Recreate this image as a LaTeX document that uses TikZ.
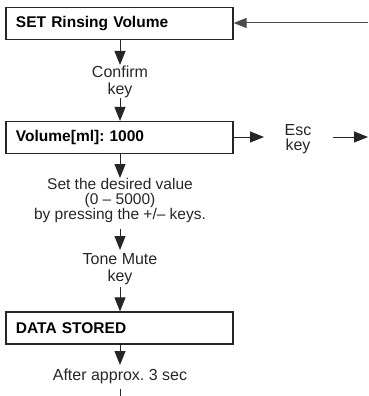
\documentclass[tikz,border=0pt]{standalone}
\usepackage{fontspec}
\setmainfont{Liberation Sans}
\usetikzlibrary{arrows.meta}
\frenchspacing
\tikzset{
  box/.style={draw=black!85, line width=1.2pt, minimum width=227pt, minimum height=32pt,
    text width=207pt, inner xsep=10pt, align=left, font=\fontsize{15.5}{16}\selectfont\bfseries\frenchspacing},
  lbl/.style={inner sep=0pt, align=center, font=\fontsize{16}{17.5}\selectfont\frenchspacing, text=black!85},
  tight/.style={font=\fontsize{15.5}{15}\selectfont\frenchspacing},
  arr/.style={draw=black!85, line width=1pt, -{Triangle[length=14pt,width=11pt]}},
  thin/.style={draw=black!70, line width=1pt, -{Triangle[length=13pt,width=10pt]}},
}
\begin{document}
\begin{tikzpicture}[x=1pt,y=-1pt]
\useasboundingbox (0,0) rectangle (368,396);
\node[box] (b1) at (119.5,23.5) {SET Rinsing Volume};
\node[box] (b2) at (119.5,137.5) {Volume[ml]: 1000};
\node[box] (b3) at (119.5,328) {DATA STORED};
\node[lbl] (confirm) at (120,82) {Confirm\\key};
\node[lbl, tight] (setval) at (120,200) {Set the desired value\\(0 -- 5000)\\by pressing the +/-- keys.};
\node[lbl] (tone) at (120,269) {Tone Mute\\key};
\node[lbl] (after) at (120,376) {After approx. 3 sec};
\node[lbl, font=\fontsize{16}{15}\selectfont] (esc) at (298,139.5) {Esc\\key};
\coordinate (a1e) at (120,65);
\coordinate (a2s) at (120,98);
\coordinate (a3e) at (120,178);
\coordinate (a4s) at (120,229);
\coordinate (a4e) at (120,250);
\coordinate (a5s) at (120,287);
\coordinate (a6e) at (120,365);
\coordinate (a7s) at (120,389);
\coordinate (a7e) at (120,396);
\coordinate (escA) at (264,137);
\coordinate (escB) at (333,137);
\coordinate (escC) at (368,137);
\coordinate (topin) at (368,23);
\draw[arr] (b1.south -| a1e) -- (a1e);
\draw[arr] (a2s) -- (b2.north -| a2s);
\draw[arr] (b2.south -| a3e) -- (a3e);
\draw[arr] (a4s) -- (a4e);
\draw[arr] (a5s) -- (b3.north -| a5s);
\draw[arr] (b3.south -| a6e) -- (a6e);
\draw[draw=black!85, line width=1pt] (a7s) -- (a7e);
\draw[arr] (b2.east |- escA) -- (escA);
\draw[arr] (escB) -- (escC);
\draw[thin] (topin) -- (b1.east |- topin);
\end{tikzpicture}
\end{document}
